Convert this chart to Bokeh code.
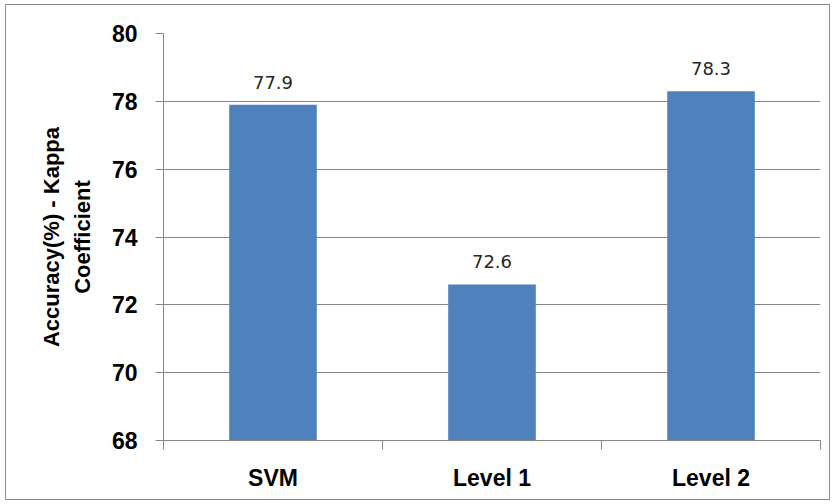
from bokeh.plotting import figure
from bokeh.models import ColumnDataSource, FixedTicker, Range1d, LabelSet
from bokeh.embed import file_html
from bokeh.resources import INLINE
from bokeh.core.properties import value

categories = ["SVM", "Level 1", "Level 2"]
accuracy = [77.9, 72.6, 78.3]
y_ticks = [68, 70, 72, 74, 76, 78, 80]

xs = [i + 0.5 for i in range(len(categories))]
src = ColumnDataSource(dict(x=xs, top=accuracy, label=[f"{v:.1f}" for v in accuracy]))

p = figure(width=825, height=496, output_backend="svg", toolbar_location=None,
           x_range=Range1d(0, len(categories)), y_range=Range1d(68, 80),
           min_border_left=157, min_border_right=11, min_border_top=28, min_border_bottom=61)
p.styles = {"border": "1px solid #8c8c8c", "margin": "4px 0 0 5px"}
p.outline_line_color = None
p.background_fill_color = "white"
p.border_fill_color = "white"

p.vbar(x="x", top="top", bottom=68, width=0.4, source=src,
       fill_color="#4F81BD", line_color=None)

labels = LabelSet(x="x", y="top", text="label", source=src, text_align="center",
                  text_baseline="bottom", y_offset=16, text_font=value("DejaVu Sans"),
                  text_font_size="18px", text_color="#262626")
p.add_layout(labels)

# y axis
p.yaxis.ticker = FixedTicker(ticks=y_ticks)
p.yaxis.axis_line_color = "#868686"
p.yaxis.major_tick_line_color = "#868686"
p.yaxis.major_tick_out = 8
p.yaxis.major_tick_in = 0
p.yaxis.minor_tick_line_color = None
p.yaxis.major_label_text_font = "Liberation Sans"
p.yaxis.major_label_text_font_style = "bold"
p.yaxis.major_label_text_font_size = "23px"
p.yaxis.major_label_text_color = "black"
p.yaxis.major_label_standoff = 18
p.yaxis.axis_label = "Accuracy(%) - Kappa\nCoefficient"
p.yaxis.axis_label_text_font = "Liberation Sans"
p.yaxis.axis_label_text_font_style = "bold"
p.yaxis.axis_label_text_font_size = "22px"
p.yaxis.axis_label_text_line_height = 1.25
p.yaxis.axis_label_text_color = "black"
p.yaxis.axis_label_standoff = 14

# x axis
p.xaxis.ticker = FixedTicker(ticks=xs, minor_ticks=list(range(len(categories) + 1)))
p.xaxis.major_label_overrides = {x: c for x, c in zip(xs, categories)}
p.xaxis.axis_line_color = "#868686"
p.xaxis.major_tick_line_color = None
p.xaxis.major_tick_out = 0
p.xaxis.major_tick_in = 0
p.xaxis.minor_tick_line_color = "#868686"
p.xaxis.minor_tick_out = 9
p.xaxis.minor_tick_in = 0
p.xaxis.major_label_text_font = "Liberation Sans"
p.xaxis.major_label_text_font_style = "bold"
p.xaxis.major_label_text_font_size = "23px"
p.xaxis.major_label_text_color = "black"
p.xaxis.major_label_standoff = 15

p.xgrid.grid_line_color = None
p.ygrid.ticker = FixedTicker(ticks=y_ticks)
p.ygrid.grid_line_color = "#868686"

open("out.html", "w").write(file_html(p, INLINE))
